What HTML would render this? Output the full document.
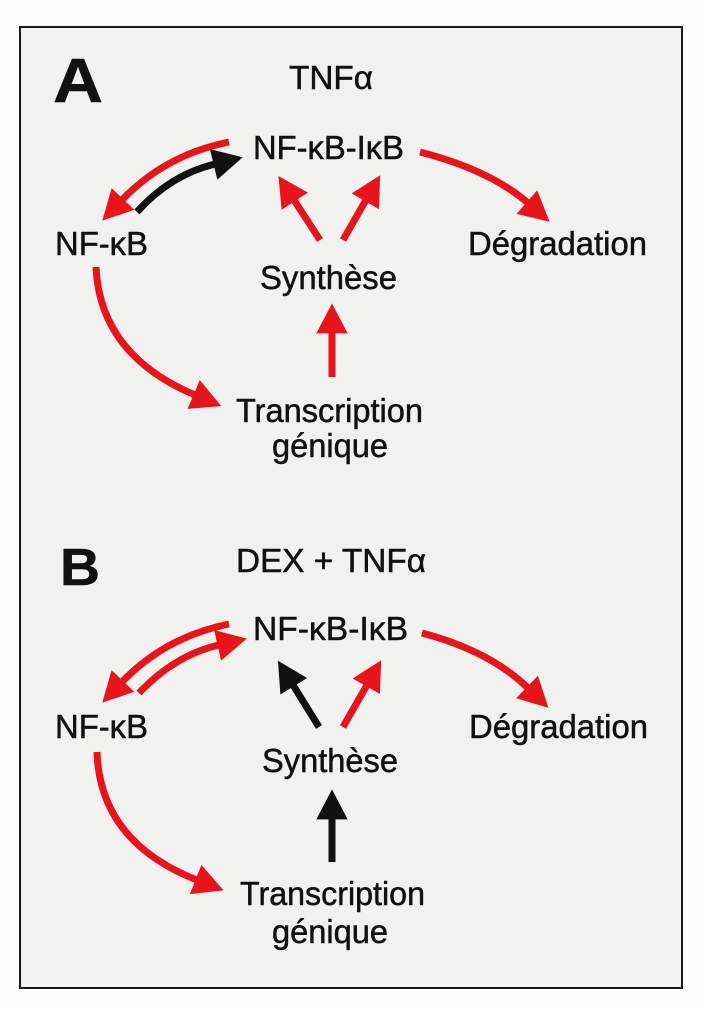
<!DOCTYPE html>
<html><head><meta charset="utf-8"><style>
html,body{margin:0;padding:0;background:#fff;}
svg{display:block;}
text{font-family:"Liberation Sans",Arial,sans-serif;fill:#111;stroke:#111;stroke-width:0.5;}
</style></head><body>
<svg width="704" height="1009" viewBox="0 0 704 1009" xmlns="http://www.w3.org/2000/svg">
<defs>
<marker id="hr" markerUnits="userSpaceOnUse" markerWidth="40" markerHeight="40" refX="0" refY="0" orient="auto" viewBox="-2 -14 26 28" style="overflow:visible">
<path d="M-1,-11 L20,0 L-1,11 z" fill="#e8141c"/></marker>
<marker id="hk" markerUnits="userSpaceOnUse" markerWidth="40" markerHeight="40" refX="0" refY="0" orient="auto" viewBox="-2 -14 26 28" style="overflow:visible">
<path d="M-1,-11 L20,0 L-1,11 z" fill="#111"/></marker>
</defs>
<rect x="0" y="0" width="704" height="1009" fill="#fdfdfd"/>
<rect x="20" y="27" width="662" height="961" fill="#f1f1ef" stroke="#1a1a1a" stroke-width="2"/>

<!-- Panel A -->
<text x="53" y="102" font-size="62" font-weight="bold" stroke-width="3" textLength="50" lengthAdjust="spacingAndGlyphs">A</text>
<text x="289" y="89" font-size="33" textLength="84" lengthAdjust="spacingAndGlyphs">TNFα</text>
<text x="253" y="159" font-size="33" textLength="151" lengthAdjust="spacingAndGlyphs">NF-κB-IκB</text>
<text x="55" y="255" font-size="33" textLength="93" lengthAdjust="spacingAndGlyphs">NF-κB</text>
<text x="468" y="255" font-size="33" textLength="179" lengthAdjust="spacingAndGlyphs">Dégradation</text>
<text x="260" y="289" font-size="33" textLength="137" lengthAdjust="spacingAndGlyphs">Synthèse</text>
<text x="236" y="422" font-size="33" textLength="187" lengthAdjust="spacingAndGlyphs">Transcription</text>
<text x="272" y="457" font-size="33" textLength="116" lengthAdjust="spacingAndGlyphs">génique</text>

<g fill="none" stroke-width="7">
<path d="M229,142 Q165,155 122,200" stroke="#e8141c" marker-end="url(#hr)"/>
<path d="M137,212 Q170,175 215,164" stroke="#111" marker-end="url(#hk)"/>
<path d="M420,152 Q490,170 528,203" stroke="#e8141c" marker-end="url(#hr)"/>
<path d="M320,240 L294,200" stroke="#e8141c" marker-end="url(#hr)"/>
<path d="M343,240 L366,200" stroke="#e8141c" marker-end="url(#hr)"/>
<path d="M332,377 L332,332" stroke="#e8141c" marker-end="url(#hr)"/>
<path d="M96,267 Q100,355 195,395" stroke="#e8141c" marker-end="url(#hr)"/>
</g>

<!-- Panel B -->
<text x="60" y="585" font-size="52" font-weight="bold" stroke-width="3" textLength="40" lengthAdjust="spacingAndGlyphs">B</text>
<text x="236" y="572" font-size="33" textLength="190" lengthAdjust="spacingAndGlyphs">DEX + TNFα</text>
<text x="253" y="640" font-size="33" textLength="155" lengthAdjust="spacingAndGlyphs">NF-κB-IκB</text>
<text x="55" y="738" font-size="33" textLength="93" lengthAdjust="spacingAndGlyphs">NF-κB</text>
<text x="469" y="738" font-size="33" textLength="179" lengthAdjust="spacingAndGlyphs">Dégradation</text>
<text x="262" y="772" font-size="33" textLength="136" lengthAdjust="spacingAndGlyphs">Synthèse</text>
<text x="240" y="905" font-size="33" textLength="185" lengthAdjust="spacingAndGlyphs">Transcription</text>
<text x="272" y="943" font-size="33" textLength="116" lengthAdjust="spacingAndGlyphs">génique</text>

<g fill="none" stroke-width="7">
<path d="M229,624 Q165,637 122,682" stroke="#e8141c" marker-end="url(#hr)"/>
<path d="M139,693 Q175,655 219,645" stroke="#e8141c" marker-end="url(#hr)"/>
<path d="M422,633 Q490,651 528,688" stroke="#e8141c" marker-end="url(#hr)"/>
<path d="M319,727 L293,685" stroke="#111" marker-end="url(#hk)"/>
<path d="M343,727 L367,685" stroke="#e8141c" marker-end="url(#hr)"/>
<path d="M332,862 L332,818" stroke="#111" marker-end="url(#hk)"/>
<path d="M97,752 Q100,842 197,880" stroke="#e8141c" marker-end="url(#hr)"/>
</g>
</svg>
</body></html>
